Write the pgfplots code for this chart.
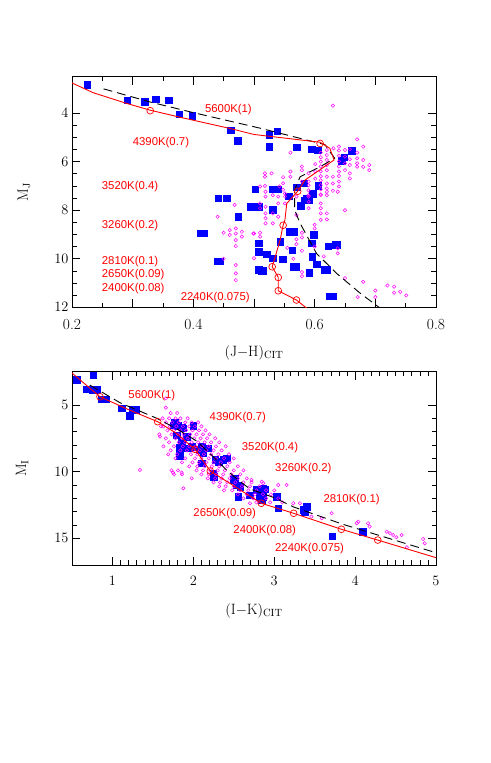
\documentclass[border=0pt]{standalone}
\usepackage{pgfplots}
\pgfplotsset{compat=1.18}
\usepackage{fontspec}
\newfontfamily\labfont{Liberation Sans}
\definecolor{mblue}{RGB}{0,0,255}
\definecolor{mmag}{RGB}{255,0,255}
\definecolor{mred}{RGB}{255,0,0}
\tikzset{lab/.style={text=mred, font=\labfont\fontsize{11.4}{13}\selectfont, anchor=west, inner sep=0pt}}
\pgfplotsset{
  smstyle/.style={
    scale only axis, width=364bp,
    anchor=south west,
    tick align=inside,
    major tick length=8bp, minor tick length=4.5bp,
    tick style={black, line width=0.6pt},
    axis line style={line width=0.8pt},
    tick label style={font=\fontsize{15.5}{18}\selectfont},
    xticklabel style={yshift=-8bp},
    label style={font=\fontsize{15}{18}\selectfont},
    y dir=reverse,
    clip marker paths=true,
  },
  blue sq/.style={only marks, mark=square*, mark size=3.3bp, color=mblue},
  mag o/.style={only marks, mark=o, mark size=1.7bp, color=mmag, line width=0.5pt},
  red line/.style={mred, line width=0.9pt, mark=none},
  red o/.style={only marks, mark=o, mark size=3.4bp, color=mred, line width=0.7pt},
  blk dash/.style={black, line width=0.9pt, dash pattern=on 9pt off 5pt, mark=none},
}
\begin{document}
\begin{tikzpicture}
\useasboundingbox (0bp,0bp) rectangle (491bp,763bp);
% ---------------- top panel ----------------
\begin{axis}[smstyle, at={(72bp,455.7bp)}, height=230.6bp,
  xmin=0.2, xmax=0.8, ymin=2.5, ymax=12,
  xtick={0.2,0.3,0.4,0.5,0.6,0.7,0.8}, xticklabels={0.2,,0.4,,0.6,,0.8}, minor x tick num=1,
  ytick={4,6,8,10,12}, minor y tick num=3,
  xlabel={$(\mathrm{J}{-}\mathrm{H})_{\mathrm{CIT}}$},
  ylabel={$\mathrm{M}_{\mathrm{J}}$},
  xlabel style={at={(axis description cs:0.5,-0.198)}, anchor=center},
  ylabel style={at={(axis description cs:-0.132,0.5)}, anchor=center},
]
\addplot[blue sq] coordinates {
(0.225,2.84) (0.291,3.46) (0.320,3.53) (0.338,3.43) (0.359,3.46) (0.377,4.05) (0.398,4.11)
(0.462,4.70) (0.473,5.14) (0.525,4.90) (0.538,4.74) (0.525,5.38) (0.570,5.41) (0.595,5.49)
(0.605,5.52) (0.661,5.56) (0.649,5.82) (0.645,5.96) (0.441,7.51) (0.455,7.51) (0.502,7.14)
(0.531,7.13) (0.540,7.13) (0.570,7.06) (0.583,6.89) (0.606,7.00) (0.597,7.33) (0.587,7.51)
(0.557,7.42) (0.583,7.58) (0.591,7.58) (0.495,7.86) (0.508,7.86) (0.474,8.27) (0.411,8.95)
(0.418,8.95) (0.508,9.36) (0.508,9.71) (0.440,10.10) (0.444,10.10) (0.508,10.46) (0.577,7.81)
(0.531,7.99) (0.559,8.89) (0.566,8.89) (0.598,9.02) (0.595,9.36) (0.543,9.30) (0.521,9.81)
(0.531,9.98) (0.547,10.02) (0.563,9.64) (0.596,9.92) (0.603,10.22) (0.622,9.48) (0.635,9.41)
(0.637,9.41) (0.617,10.46) (0.620,10.46) (0.565,10.33) (0.569,10.33) (0.591,10.58)
(0.513,10.49) (0.515,10.49) (0.625,11.54) (0.630,11.54)
};
\addplot[mag o] coordinates {
(0.630,3.69) (0.670,5.08) (0.680,5.38) (0.560,5.63) (0.610,5.63) (0.610,5.82) (0.610,6.00)
(0.610,6.20) (0.610,6.40) (0.610,6.60) (0.610,6.77) (0.610,6.97) (0.610,7.14) (0.610,7.35)
(0.620,5.52) (0.620,5.73) (0.620,5.93) (0.620,6.14) (0.620,6.35) (0.631,5.45) (0.640,5.38)
(0.640,5.54) (0.640,5.76) (0.640,5.99) (0.640,6.20) (0.640,6.41) (0.640,6.59) (0.640,6.82)
(0.640,7.02) (0.650,5.52) (0.650,5.79) (0.650,6.07) (0.650,6.35) (0.658,5.49) (0.658,5.90)
(0.658,6.14) (0.658,6.48) (0.658,6.69) (0.670,5.63) (0.670,5.86) (0.670,6.07) (0.670,6.21)
(0.680,5.93) (0.680,6.21) (0.690,6.14) (0.690,6.35) (0.601,6.10) (0.601,6.40) (0.601,6.70)
(0.579,6.20) (0.579,6.35) (0.560,6.41) (0.560,6.62) (0.548,6.64) (0.548,6.89) (0.518,6.48)
(0.518,6.62) (0.518,7.00) (0.529,6.48) (0.510,7.02) (0.579,6.82) (0.590,6.48) (0.590,6.82)
(0.590,6.97) (0.590,7.18) (0.590,7.38) (0.620,6.62) (0.620,6.90) (0.620,7.10) (0.630,6.62)
(0.630,6.90) (0.630,7.20) (0.542,7.02) (0.548,7.16) (0.531,7.38) (0.519,7.24) (0.519,7.44)
(0.519,7.86) (0.519,8.13) (0.519,8.33) (0.519,8.54) (0.510,7.72) (0.510,7.92) (0.510,8.93)
(0.510,9.09) (0.499,8.96) (0.500,9.98) (0.531,8.13) (0.531,8.54) (0.540,7.44) (0.540,7.72)
(0.540,8.27) (0.551,7.31) (0.551,7.44) (0.551,7.72) (0.570,7.44) (0.570,8.20) (0.570,9.20)
(0.570,9.40) (0.579,8.93) (0.579,9.12) (0.579,9.67) (0.579,10.55) (0.579,10.72) (0.590,7.44)
(0.590,7.65) (0.590,7.92) (0.610,7.38) (0.610,7.72) (0.610,7.92) (0.610,8.13) (0.610,8.40)
(0.620,7.24) (0.620,7.38) (0.638,7.24) (0.650,8.00) (0.620,8.13) (0.620,8.38) (0.600,8.60)
(0.600,8.75) (0.638,9.57) (0.638,9.78) (0.650,10.80) (0.680,10.95) (0.671,11.58) (0.700,11.31)
(0.700,11.58) (0.720,11.10) (0.731,11.15) (0.731,11.40) (0.741,11.36) (0.751,11.51)
(0.468,7.78) (0.440,8.27) (0.450,8.93) (0.460,8.82) (0.460,9.02) (0.470,8.75) (0.470,8.96)
(0.470,9.23) (0.470,9.48) (0.480,8.89) (0.480,9.09) (0.500,8.96) (0.450,10.00) (0.470,10.26)
(0.470,10.60) (0.470,10.88) (0.565,10.00) (0.555,9.55) (0.600,9.50) (0.615,9.90)
};
\addplot[blk dash] coordinates {
(0.252,3.00) (0.33,3.55) (0.40,3.98) (0.51,4.62) (0.617,5.30) (0.633,5.86) (0.609,6.21)
(0.576,6.62) (0.567,7.17) (0.567,7.99) (0.576,8.54) (0.603,9.78) (0.636,10.60) (0.675,11.42)
(0.705,11.98) (0.712,12.10)
};
\addplot[red line] coordinates {
(0.195,2.70) (0.235,3.16) (0.29,3.60) (0.329,3.88) (0.378,4.17) (0.46,4.63) (0.50,4.88)
(0.609,5.20) (0.625,5.45) (0.632,5.93) (0.584,6.76) (0.572,7.22) (0.554,7.72) (0.551,8.40)
(0.548,8.62) (0.543,9.23) (0.535,9.92) (0.530,10.33) (0.540,10.77) (0.540,11.32) (0.570,11.70)
(0.590,12.10)
};
\addplot[red o] coordinates {
(0.329,3.90) (0.609,5.25) (0.572,7.22) (0.548,8.62) (0.530,10.33) (0.540,10.77) (0.540,11.32) (0.570,11.70)
};
\node[lab] at (axis cs:0.419,3.87) {5600K(1)};
\node[lab] at (axis cs:0.300,5.20) {4390K(0.7)};
\node[lab] at (axis cs:0.249,7.03) {3520K(0.4)};
\node[lab] at (axis cs:0.249,8.65) {3260K(0.2)};
\node[lab] at (axis cs:0.249,10.12) {2810K(0.1)};
\node[lab] at (axis cs:0.249,10.67) {2650K(0.09)};
\node[lab] at (axis cs:0.249,11.22) {2400K(0.08)};
\node[lab] at (axis cs:0.379,11.59) {2240K(0.075)};
\end{axis}
% ---------------- bottom panel ----------------
\begin{axis}[smstyle, at={(72bp,198bp)}, height=193.3bp,
  xmin=0.5, xmax=5, ymin=2.5, ymax=17,
  xtick={1,2,3,4,5}, minor x tick num=9,
  ytick={5,10,15}, minor y tick num=4,
  xlabel={$(\mathrm{I}{-}\mathrm{K})_{\mathrm{CIT}}$},
  ylabel={$\mathrm{M}_{\mathrm{I}}$},
  xlabel style={at={(axis description cs:0.5,-0.235)}, anchor=center},
  ylabel style={at={(axis description cs:-0.137,0.5)}, anchor=center},
]
\addplot[blue sq] coordinates {
(0.558,3.12) (0.763,2.75) (0.680,3.80) (0.750,3.87) (0.810,3.87) (0.867,4.57) (0.920,4.57)
(1.114,5.25) (1.250,5.37) (1.290,5.37) (1.217,5.82) (1.773,6.30) (1.863,6.67) (2.000,6.55)
(1.750,6.50) (1.810,6.57) (1.876,6.75) (1.794,7.25) (1.856,7.80) (1.918,7.37) (1.835,8.20)
(1.888,8.25) (1.940,8.25) (1.980,8.13) (1.835,8.82) (2.100,8.13) (2.180,8.25) (2.080,8.37)
(2.120,8.62) (2.270,9.12) (2.370,9.12) (2.410,9.00) (2.100,9.37) (2.310,9.25) (2.247,10.12)
(2.255,10.37) (2.494,10.62) (2.515,10.50) (2.535,11.00) (2.577,11.13) (2.556,11.88)
(2.700,11.75) (2.780,11.37) (2.886,11.32) (2.815,11.62) (2.845,12.12) (2.865,11.88)
(2.865,11.25) (2.820,11.88) (3.030,11.88) (3.050,12.75) (3.359,12.87) (3.400,12.62)
(3.380,13.00) (3.717,14.83) (4.093,14.50)
};
\addplot[mag o] coordinates {
(1.66,4.50) (1.66,5.20) (1.72,5.60) (1.80,5.60)
(1.62,6.00) (1.70,6.00) (1.78,6.00) (1.84,6.00) (1.93,6.00)
(1.66,6.30) (1.74,6.30) (1.82,6.30) (1.90,6.30) (1.98,6.30) (2.06,6.30)
(1.60,6.60) (1.71,6.60) (1.79,6.60) (1.87,6.60) (1.95,6.60) (2.02,6.60) (2.10,6.60)
(1.68,6.90) (1.76,6.90) (1.84,6.90) (1.91,6.90) (1.99,6.90) (2.07,6.90) (2.15,6.90)
(1.58,7.20) (1.73,7.20) (1.81,7.20) (1.88,7.20) (1.96,7.20) (2.04,7.20) (2.12,7.20) (2.20,7.20)
(1.66,7.50) (1.78,7.50) (1.86,7.50) (1.93,7.50) (2.01,7.50) (2.09,7.50) (2.17,7.50) (2.27,7.50)
(1.70,7.80) (1.82,7.80) (1.90,7.80) (1.98,7.80) (2.06,7.80) (2.14,7.80) (2.22,7.80) (2.32,7.80)
(1.63,8.10) (1.76,8.10) (1.87,8.10) (1.95,8.10) (2.03,8.10) (2.11,8.10) (2.19,8.10) (2.28,8.10) (2.40,8.10)
(1.72,8.40) (1.84,8.40) (1.92,8.40) (2.00,8.40) (2.08,8.40) (2.16,8.40) (2.25,8.40) (2.35,8.40)
(1.69,8.70) (1.80,8.70) (1.97,8.70) (2.05,8.70) (2.13,8.70) (2.22,8.70) (2.31,8.70) (2.44,8.70)
(1.78,9.00) (1.90,9.00) (2.02,9.00) (2.10,9.00) (2.19,9.00) (2.28,9.00) (2.38,9.00) (2.50,9.00)
(1.86,9.30) (1.99,9.30) (2.07,9.30) (2.16,9.30) (2.25,9.30) (2.34,9.30) (2.45,9.30)
(1.95,9.60) (2.05,9.60) (2.14,9.60) (2.23,9.60) (2.32,9.60) (2.42,9.60) (2.55,9.60)
(1.73,9.90) (1.81,9.90) (2.04,9.90) (2.12,9.90) (2.21,9.90) (2.30,9.90) (2.39,9.90) (2.50,9.90) (2.62,9.90)
(1.76,10.20) (1.86,10.20) (2.10,10.20) (2.19,10.20) (2.28,10.20) (2.37,10.20) (2.47,10.20) (2.58,10.20)
(1.98,10.50) (2.18,10.50) (2.27,10.50) (2.35,10.50) (2.45,10.50) (2.55,10.50) (2.66,10.50)
(2.25,10.80) (2.33,10.80) (2.42,10.80) (2.52,10.80) (2.62,10.80) (2.72,10.80)
(2.32,11.10) (2.40,11.10) (2.50,11.10) (2.60,11.10) (2.70,11.10) (2.82,11.10)
(2.38,11.40) (2.48,11.40) (2.58,11.40) (2.68,11.40) (2.78,11.40) (2.90,11.40) (3.00,11.40)
(2.55,11.70) (2.66,11.70) (2.76,11.70) (2.86,11.70) (2.96,11.70)
(2.62,12.00) (2.74,12.00) (2.90,12.00) (3.05,12.00)
(2.78,12.30) (2.95,12.30) (3.10,12.30)
(1.34,9.87) (1.75,10.07) (1.856,10.07) (1.876,11.25) (1.588,7.37) (1.63,6.60) (2.70,12.37)
(2.72,10.62) (2.845,10.75) (2.865,10.87) (3.05,11.00) (3.153,11.00) (3.236,12.37) (3.318,12.37)
(3.46,13.37) (3.587,13.50) (3.71,13.12) (4.02,13.87) (4.04,13.75) (4.16,13.87) (4.18,14.12)
(4.39,14.50) (4.43,14.62) (4.47,14.75) (4.51,14.92) (4.575,14.75) (4.64,15.67) (4.84,15.05) (4.86,15.37)
};
\addplot[blk dash] coordinates {
(0.72,3.50) (1.10,4.85) (1.55,6.00) (1.80,6.80) (2.04,7.70) (2.25,8.90) (2.41,9.87)
(2.55,10.60) (2.70,11.30) (3.00,11.95) (3.24,12.65) (3.85,13.95) (4.35,14.88) (5.00,16.08)
};
\addplot[red line] coordinates {
(0.50,2.60) (0.846,4.38) (1.20,5.35) (1.559,6.25) (1.79,7.12) (2.02,8.32) (2.21,9.95)
(2.45,10.87) (2.84,12.37) (3.24,13.12) (3.83,14.32) (4.28,15.13) (5.00,16.45)
};
\addplot[red o] coordinates {
(0.846,4.38) (1.559,6.25) (2.02,8.32) (2.21,9.95) (2.84,12.37) (3.24,13.12) (3.83,14.32) (4.28,15.13)
};
\node[lab] at (axis cs:1.196,4.30) {5600K(1)};
\node[lab] at (axis cs:2.200,5.97) {4390K(0.7)};
\node[lab] at (axis cs:2.598,8.20) {3520K(0.4)};
\node[lab] at (axis cs:3.010,9.75) {3260K(0.2)};
\node[lab] at (axis cs:3.607,12.07) {2810K(0.1)};
\node[lab] at (axis cs:1.999,13.12) {2650K(0.09)};
\node[lab] at (axis cs:2.494,14.38) {2400K(0.08)};
\node[lab] at (axis cs:3.009,15.75) {2240K(0.075)};
\end{axis}
\end{tikzpicture}
\end{document}
